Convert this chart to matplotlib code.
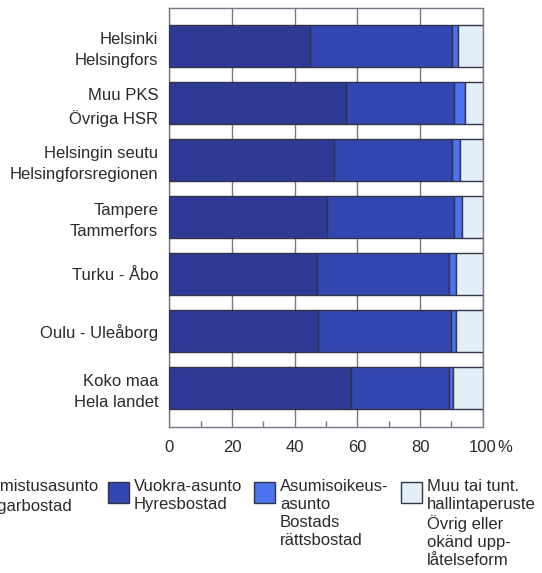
import numpy as np
import matplotlib
matplotlib.use("Agg")
import matplotlib.pyplot as plt
from matplotlib.patches import Rectangle

plt.rcParams["font.family"] = ["Liberation Sans", "DejaVu Sans"]

# Regions, top to bottom
regions = ["Helsinki\nHelsingfors", "Muu PKS\nÖvriga HSR",
           "Helsingin seutu\nHelsingforsregionen", "Tampere\nTammerfors",
           "Turku - Åbo", "Oulu - Uleåborg", "Koko maa\nHela landet"]

# Share of dwellings by tenure (%)
owner = [44.9, 56.3, 52.4, 50.2, 47.0, 47.5, 58.0]
rental = [45.2, 34.4, 37.9, 40.8, 42.4, 42.3, 31.2]
right_of_occ = [1.9, 3.5, 2.5, 2.4, 2.1, 1.7, 1.2]
other = [8.0, 5.8, 7.2, 6.6, 8.5, 8.5, 9.6]

legend_labels = ["Omistusasunto\nÄgarbostad", "Vuokra-asunto\nHyresbostad",
                 "Asumisoikeus-\nasunto\nBostads\nrättsbostad",
                 "Muu tai tunt.\nhallintaperuste\nÖvrig eller\nokänd upp-\nlåtelseform"]
colors = ["#2e3a94", "#3447b0", "#4d72ee", "#e2eff8"]

W, H = 542, 573
fig = plt.figure(figsize=(W / 100, H / 100), dpi=100)
ax = fig.add_axes([169.3 / W, 1 - 427.3 / H, (482.7 - 169.3) / W, (427.3 - 8.3) / H])

y = np.arange(len(regions))[::-1]
left = np.zeros(len(regions))
for vals, c in zip([owner, rental, right_of_occ, other], colors):
    ax.barh(y, vals, left=left, height=0.743, color=c, edgecolor="#30334a", linewidth=1.0, zorder=3)
    left += np.array(vals)

ax.set_xlim(0, 100)
ax.set_ylim(-0.69, 6.66)
ax.set_xticks([0, 20, 40, 60, 80, 100])
ax.set_xticklabels(["0", "20", "40", "60", "80", "100"])
ax.set_xticks([10, 30, 50, 70, 90], minor=True)
ax.tick_params(axis="x", which="major", length=0, pad=9, labelsize=12, labelcolor="#2a2a2a")
ax.tick_params(axis="x", which="minor", direction="in", length=4, color="#806f8f", width=1)
ax.set_yticks(y)
ax.set_yticklabels(regions, linespacing=1.5)
ax.tick_params(axis="y", length=0, pad=8, labelsize=12, labelcolor="#2a2a2a")
ax.xaxis.grid(True, color="#7f7388", linewidth=1.0, zorder=0)
for s in ax.spines.values():
    s.set_color("#7f7388")
    s.set_linewidth(1.0)
fig.text(497 / W, 1 - 448 / H, "%", fontsize=12, color="#2a2a2a", va="center")

# Legend drawn by hand at fixed column positions
for i, (lab, c) in enumerate(zip(legend_labels, colors)):
    x0 = -39 + 146.5 * i
    fig.add_artist(Rectangle((x0 / W, 1 - 503 / H), 21 / W, 21 / H, transform=fig.transFigure,
                             facecolor=c, edgecolor="#30334a", linewidth=1.0))
    fig.text((x0 + 26) / W, 1 - 479 / H, lab, fontsize=12, color="#2a2a2a", va="top", ha="left",
             linespacing=1.24)

fig.savefig("out.png", dpi=100)
